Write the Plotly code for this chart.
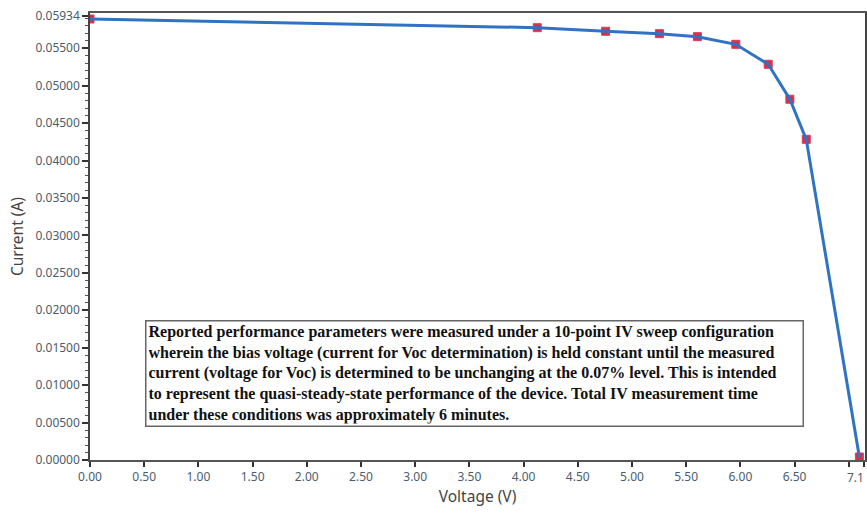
import plotly.graph_objects as go

# Data
voltage = [0.00, 4.126, 4.757, 5.253, 5.604, 5.958, 6.257, 6.457, 6.608, 7.098]
current = [0.05890, 0.05774, 0.05726, 0.05694, 0.05654, 0.05552, 0.05285, 0.04818, 0.04283, 0.00040]

x_tick_vals = [0.0, 0.5, 1.0, 1.5, 2.0, 2.5, 3.0, 3.5, 4.0, 4.5, 5.0, 5.5, 6.0, 6.5, 7.0, 7.14]
x_tick_text = ["0.00", "0.50", "1.00", "1.50", "2.00", "2.50", "3.00", "3.50", "4.00",
               "4.50", "5.00", "5.50", "6.00", "6.50", "", ""]
x_edge_label = "7.1"
y_tick_vals = [0.0, 0.005, 0.01, 0.015, 0.02, 0.025, 0.03, 0.035, 0.04, 0.045, 0.05, 0.055, 0.05934]
y_tick_text = ["%.5f" % v for v in y_tick_vals]

note_lines = [
    "Reported performance parameters were measured under a 10-point IV sweep configuration",
    "wherein the bias voltage (current for Voc determination) is held constant until the measured",
    "current (voltage for Voc) is determined to be unchanging at the 0.07% level. This is intended",
    "to represent the quasi-steady-state performance of the device. Total IV measurement time",
    "under these conditions was approximately 6 minutes.",
]
note = "<br>".join("<b>%s</b>" % s for s in note_lines)

fig = go.Figure()
fig.add_trace(go.Scatter(x=voltage, y=current, mode="markers",
                         marker=dict(symbol="square", size=8, color="#d6304f",
                                     line=dict(color="#e23a52", width=1)),
                         showlegend=False, hoverinfo="skip"))
fig.add_trace(go.Scatter(x=voltage, y=current, mode="lines",
                         line=dict(color="#2f73c2", width=3),
                         showlegend=False))

fig.add_annotation(xref="paper", yref="paper", x=(145 - 90) / 775, y=(460 - 320) / 447,
                   xanchor="left", yanchor="top", align="left", showarrow=False,
                   text=note, width=652, height=100, valign="middle",
                   bordercolor="#666666", borderwidth=1.5, borderpad=2, bgcolor="white",
                   font=dict(family="Liberation Serif", size=16, color="#111111"))

# right-most x tick label, pinned to the page edge as in the reference
fig.add_annotation(xref="paper", yref="paper", x=1, y=0, xanchor="right", yanchor="top",
                   xshift=1, yshift=-7, showarrow=False, text=x_edge_label,
                   font=dict(family="Noto Sans", size=12, color="#4a5d6e"))

fig.update_layout(
    width=867, height=513,
    margin=dict(l=90, r=2, t=13, b=53),
    paper_bgcolor="white", plot_bgcolor="white",
    font=dict(family="Noto Sans", size=12, color="#4a5d6e"),
    xaxis=dict(range=[0, 7.15], tickvals=x_tick_vals, ticktext=x_tick_text,
               showgrid=False, zeroline=False, showline=True, linecolor="#555555",
               linewidth=1.5, mirror=True, ticks="outside", ticklen=5, tickcolor="#333333",
               tickwidth=1.5, automargin=False,
               title=dict(text="Voltage (V)", font=dict(size=15.5, color="#444444"), standoff=4)),
    yaxis=dict(range=[0, 0.0597], tickvals=y_tick_vals, ticktext=y_tick_text,
               showgrid=False, zeroline=False, showline=True, linecolor="#444444",
               linewidth=1.5, mirror=True, ticks="outside", ticklen=6, tickcolor="#333333",
               tickwidth=1.5, automargin=False,
               minor=dict(ticks="outside", dtick=0.001, tick0=0, ticklen=3,
                          tickcolor="#555555", tickwidth=1),
               title=dict(text="Current (A)", font=dict(size=15.5, color="#444444"), standoff=8)),
)

fig.write_html("out.html")
